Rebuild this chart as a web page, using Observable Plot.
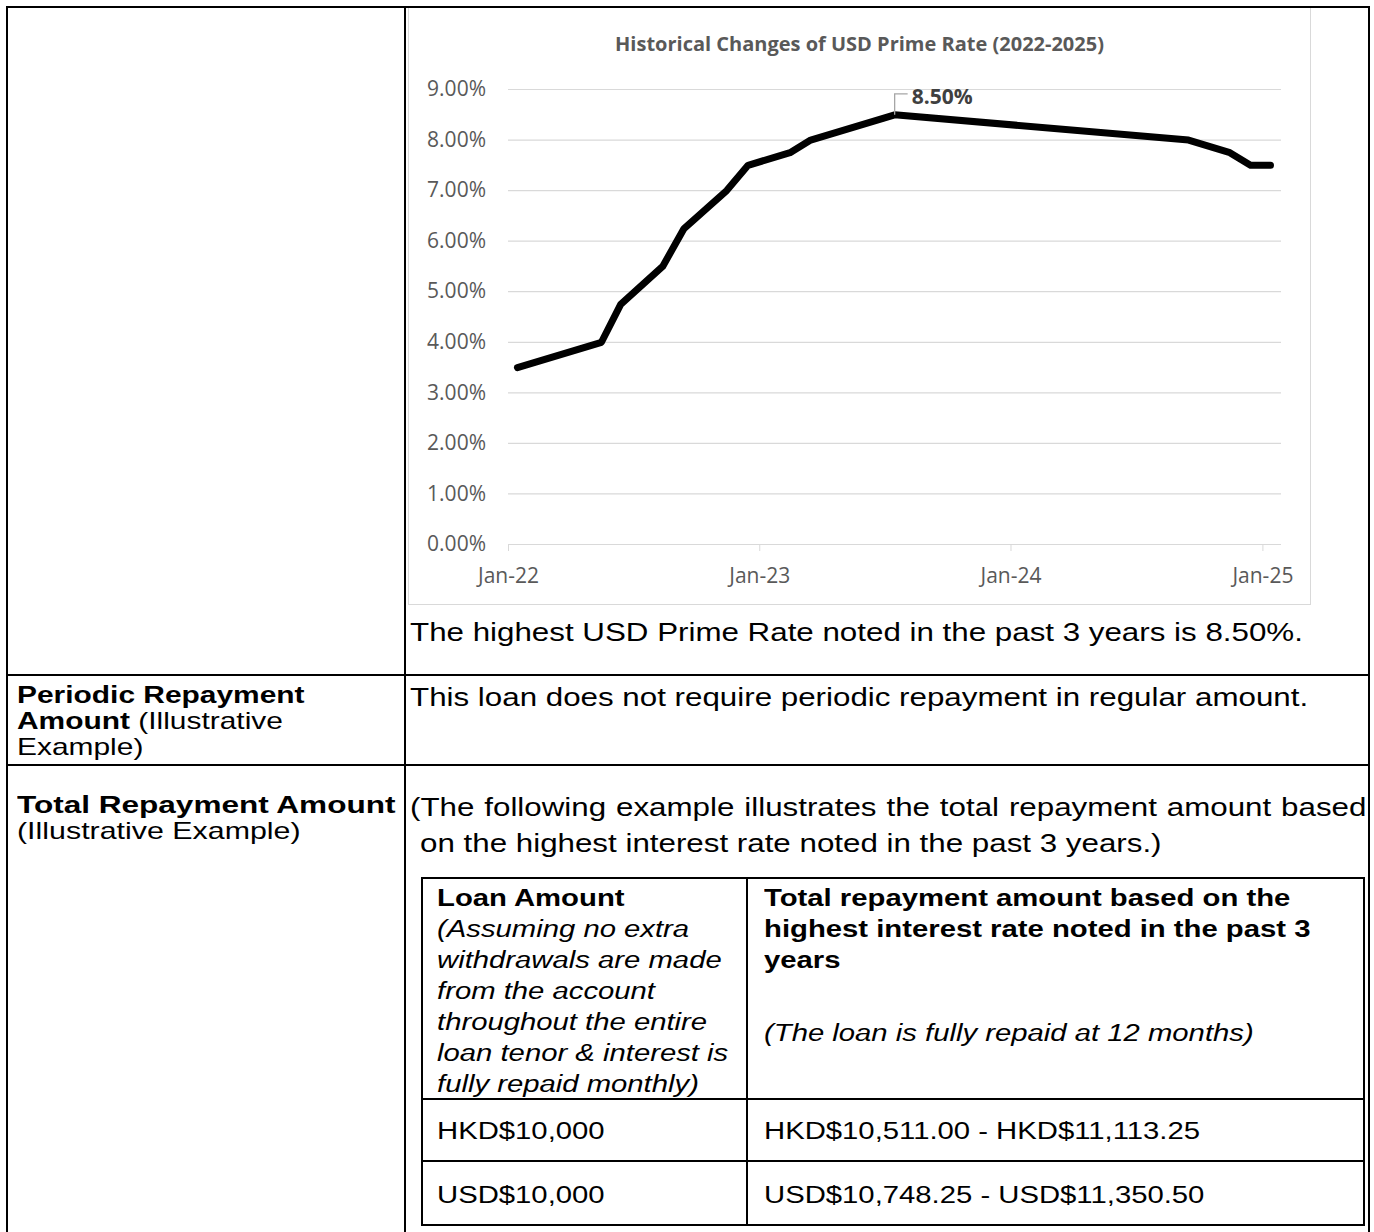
<!DOCTYPE html>
<html><head><meta charset="utf-8">
<script src="https://cdn.jsdelivr.net/npm/d3@7"></script>
<script src="https://cdn.jsdelivr.net/npm/@observablehq/plot@0.6"></script>
<style>
html,body{margin:0;padding:0;background:#fff;}
body{width:1374px;height:1232px;overflow:hidden;position:relative;font-family:"Liberation Sans",Arial,sans-serif;color:#000;}
.t{position:absolute;white-space:nowrap;transform-origin:0 50%;}
.r{position:absolute;background:#000;}
#chartbox{position:absolute;left:408px;top:7px;width:903px;height:598px;box-sizing:border-box;border:1px solid #d9d9d9;background:#fff;}
#ctitle{position:absolute;left:0;top:24px;width:100%;text-align:center;line-height:24px;font-family:"Open Sans",sans-serif;font-weight:bold;font-size:20px;color:#595959;}
#plot{position:absolute;left:0;top:54px;}
</style></head><body>
<div id="chartbox"><div id="ctitle"></div><div id="plot"></div></div>
<script>
// ---- chart data ----
const chartTitle = "Historical Changes of USD Prime Rate (2022-2025)";
const dates = ["2022-01-14","2022-05-16","2022-06-13","2022-08-13","2022-09-13","2022-11-14","2022-12-15","2023-02-14","2023-03-16","2023-07-16","2024-09-15","2024-11-14","2024-12-14","2025-01-12"];
const rates = [3.50,4.00,4.75,5.50,6.25,7.00,7.50,7.75,8.00,8.50,8.00,7.75,7.50,7.50];
const yTicks = [0,1,2,3,4,5,6,7,8,9];
const xTickDates = ["2022-01-01","2023-01-01","2024-01-01","2025-01-01"];
const xTickLabels = ["Jan-22","Jan-23","Jan-24","Jan-25"];
const xDomain = ["2022-01-01","2025-01-28"];

const parse = d3.utcParse("%Y-%m-%d");
const rows = dates.map((d, i) => ({date: parse(d), rate: rates[i]}));
const xTicks = xTickDates.map(parse);
const fmtPct = v => v.toFixed(2) + "%";
const fmtX = d => xTickLabels[xTicks.findIndex(t => +t === +d)];
const leader = {draw(ctx) { ctx.moveTo(0, 0); ctx.lineTo(0, -21); ctx.lineTo(13, -21); }};

document.getElementById("ctitle").textContent = chartTitle;
const chart = Plot.plot({
  width: 901, height: 542,
  marginLeft: 99, marginRight: 29, marginTop: 27, marginBottom: 60,
  x: {type: "utc", domain: xDomain.map(parse), label: null},
  y: {domain: [0, 9], label: null},
  style: {fontFamily: "'Open Sans', sans-serif", fontSize: "21px", color: "#595959", background: "white", overflow: "visible"},
  marks: [
    Plot.gridY(yTicks, {stroke: "#d9d9d9", strokeOpacity: 1, strokeWidth: 1.2}),
    Plot.axisY(yTicks, {tickSize: 0, tickPadding: 22.5, tickFormat: fmtPct, fontSize: 21, fill: "#595959", label: null}),
    Plot.ruleY([0], {stroke: "#d9d9d9", strokeWidth: 1.2}),
    Plot.axisX(xTicks, {tickSize: 7, tickPadding: 17, tickFormat: fmtX, fontSize: 21, stroke: "#d9d9d9", fill: "#595959", label: null}),
    Plot.line(rows, {x: "date", y: "rate", stroke: "#000", strokeWidth: 7, strokeLinejoin: "round", strokeLinecap: "round"}),
    Plot.dot(rows, Plot.selectMaxY({x: "date", y: "rate", symbol: leader, stroke: "#a6a6a6", fill: "none", strokeWidth: 1.3})),
    Plot.text(rows, Plot.selectMaxY({x: "date", y: "rate", text: d => fmtPct(d.rate), dx: 17, dy: -18, textAnchor: "start", fontWeight: "bold", fontSize: 21, fill: "#404040"}))
  ]
});
document.getElementById("plot").appendChild(chart);

// ---- document layout (page px) ----
function rect(x, y, w, h) {
  const d = document.createElement("div");
  d.className = "r";
  Object.assign(d.style, {left: x + "px", top: y + "px", width: w + "px", height: h + "px"});
  document.body.appendChild(d);
}
function txt(x, yc, html, size, lh, sx, extra) {
  const d = document.createElement("div");
  d.className = "t";
  d.innerHTML = html;
  Object.assign(d.style, {left: x + "px", top: (yc - lh / 2) + "px", height: lh + "px", fontSize: size + "px", lineHeight: lh + "px", transform: `scaleX(${sx})`}, extra || {});
  document.body.appendChild(d);
}
// outer table
rect(6, 6, 1364, 2);
rect(6, 6, 2, 1226);
rect(404, 6, 2, 1226);
rect(1368, 6, 2, 1226);
rect(6, 674, 1364, 2);
rect(6, 764, 1364, 2);
// inner table
rect(421, 877, 944, 2);
rect(421, 1224, 944, 2);
rect(421, 877, 2, 349);
rect(1363, 877, 2, 349);
rect(746, 877, 2, 349);
rect(421, 1098, 944, 2);
rect(421, 1160, 944, 2);

const fo = 26.1, fi = 24.4, fl = 23.2;
txt(410, 632, "The highest USD Prime Rate noted in the past 3 years is 8.50%.", fo, 28, 1.2);
txt(17, 695, "<b>Periodic Repayment</b>", fl, 26, 1.29);
txt(17, 721, "<b>Amount</b> (Illustrative", fl, 26, 1.29);
txt(17, 747, "Example)", fl, 26, 1.29);
txt(410, 697, "This loan does not require periodic repayment in regular amount.", fo, 28, 1.2);
txt(17, 805, "<b>Total Repayment Amount</b>", fl, 26, 1.36);
txt(17, 831, "(Illustrative Example)", fl, 26, 1.31);
txt(410, 807, "(The following example illustrates the total repayment amount based", fo, 28, 1.2, {wordSpacing: "1px"});
txt(420, 843, "on the highest interest rate noted in the past 3 years.)", fo, 28, 1.2);

txt(437, 898, "<b>Loan Amount</b>", fi, 30, 1.2);
const italicLines = ["(Assuming no extra", "withdrawals are made", "from the account", "throughout the entire", "loan tenor &amp; interest is", "fully repaid monthly)"];
italicLines.forEach((s, i) => txt(437, 929 + 31 * i, "<i>" + s + "</i>", fi, 30, 1.2));
txt(764, 898, "<b>Total repayment amount based on the</b>", fi, 30, 1.2);
txt(764, 929, "<b>highest interest rate noted in the past 3</b>", fi, 30, 1.2);
txt(764, 960, "<b>years</b>", fi, 30, 1.2);
txt(764, 1033, "<i>(The loan is fully repaid at 12 months)</i>", fi, 30, 1.2);
txt(437, 1131, "HKD$10,000", fi, 30, 1.2);
txt(764, 1131, "HKD$10,511.00 - HKD$11,113.25", fi, 30, 1.2);
txt(437, 1195, "USD$10,000", fi, 30, 1.2);
txt(764, 1195, "USD$10,748.25 - USD$11,350.50", fi, 30, 1.2);
</script>
</body></html>
